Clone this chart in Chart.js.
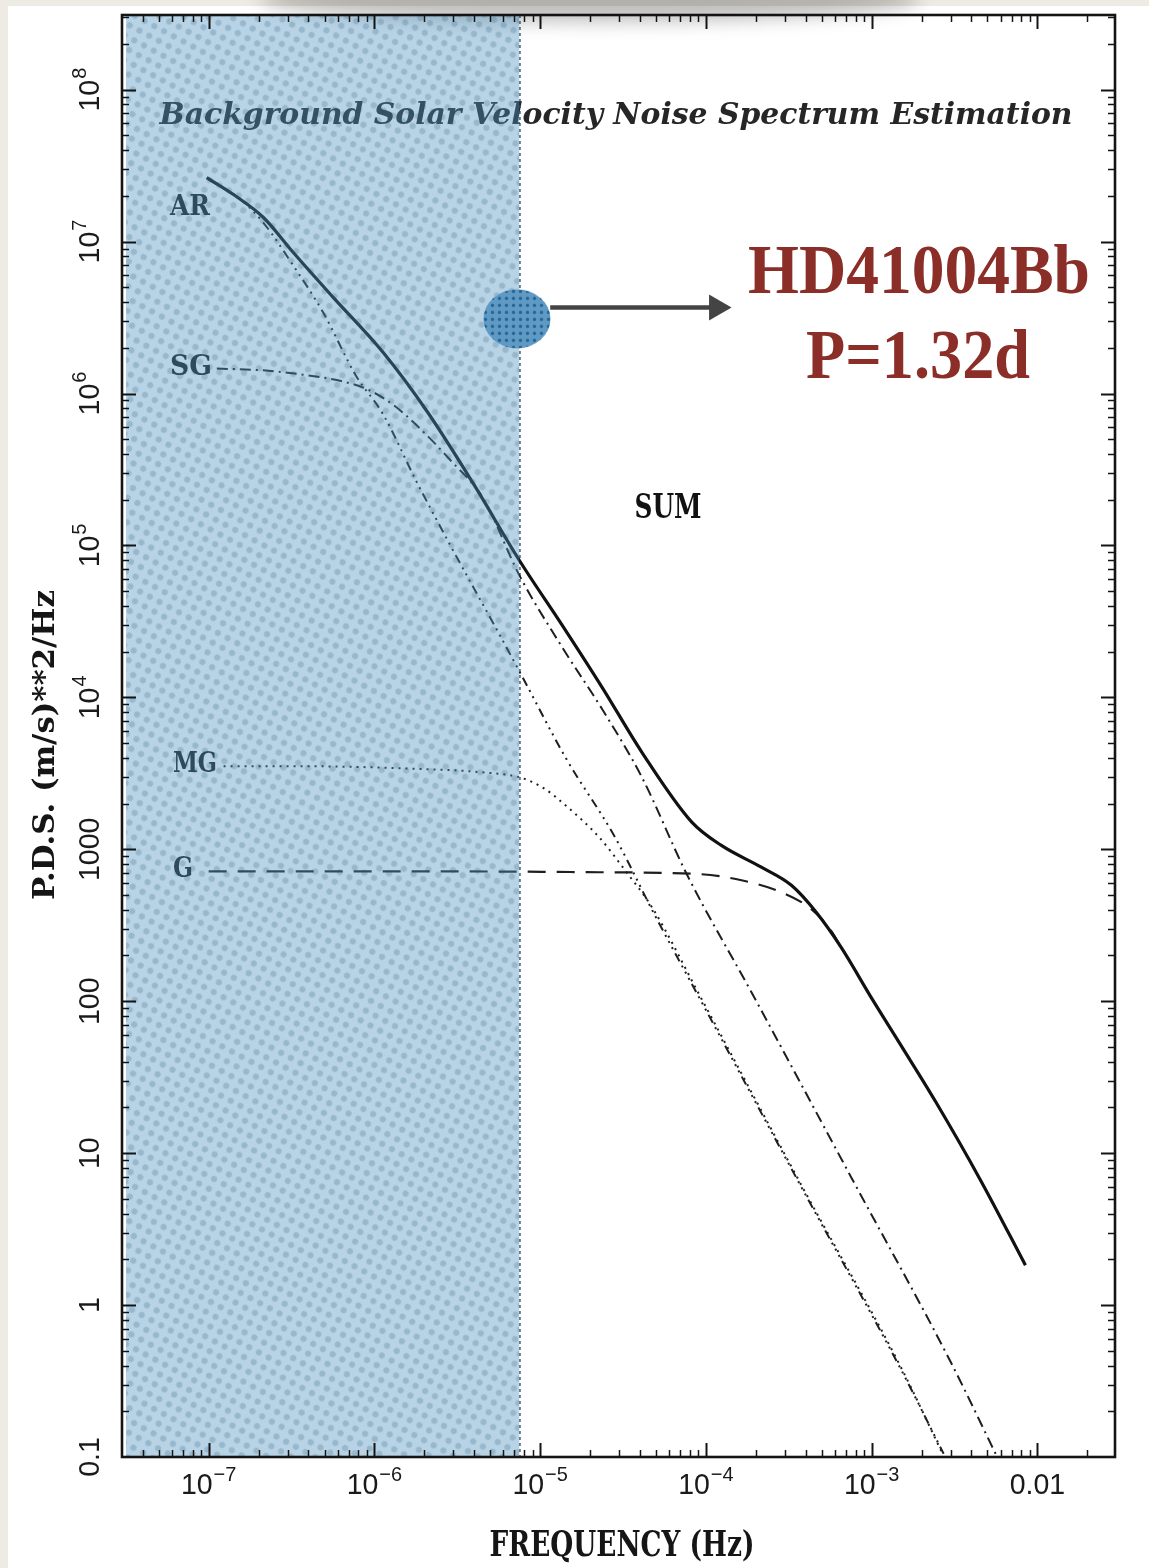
<!DOCTYPE html>
<html><head><meta charset="utf-8">
<script src="https://cdn.jsdelivr.net/npm/chart.js@4.4.1/dist/chart.umd.min.js"></script>
<style>
html,body{margin:0;padding:0;background:#eeebe4;}
#wrap{position:relative;width:1149px;height:1568px;overflow:hidden;}
#card{position:absolute;left:8px;top:6px;right:0;bottom:0;background:#fff;}
#shadow{position:absolute;left:260px;top:-24px;width:660px;height:46px;border-radius:50%;background:rgba(0,0,0,0.25);filter:blur(9px);}
canvas{position:absolute;left:0;top:0;}
</style></head><body>
<div id="wrap"><div id="card"></div><div id="shadow"></div><canvas id="c" width="1149" height="1568"></canvas></div>
<script>
// ---------------- DATA ----------------
const sumFreq = [9.73e-8,1.41e-7,2.14e-7,3.24e-7,5.64e-7,1.13e-6,2.10e-6,3.92e-6,7.50e-6,1.36e-5,2.37e-5,4.11e-5,8.22e-5,1.24e-4,2.16e-4,3.28e-4,4.63e-4,6.55e-4,9.93e-4,1.50e-3,2.44e-3,4.54e-3,8.47e-3];
const sumPds  = [2.64e7,2.04e7,1.44e7,8.47e6,4.29e6,1.86e6,7.50e5,2.59e5,7.96e4,2.98e4,1.16e4,4350,1510,1060,762,579,385,226,106,51.4,21.7,6.64,1.83];

const arFreq = [1.00e-7,1.51e-7,2.14e-7,3.24e-7,4.91e-7,7.74e-7,1.13e-6,1.78e-6,2.96e-6,5.38e-6,7.82e-6,1.42e-5,2.83e-5,4.92e-5,9.44e-5,3.77e-4,1.50e-3,2.72e-3];
const arPds  = [2.56e7,1.95e7,1.33e7,6.95e6,3.41e6,1.31e6,7.28e5,2.68e5,9.42e4,2.89e4,1.36e4,4030,1200,368,98.4,5.97,0.379,0.105];

const sgFreq = [1.12e-7,2.14e-7,3.72e-7,6.47e-7,9.16e-7,1.29e-6,1.78e-6,2.96e-6,4.50e-6,7.50e-6,1.36e-5,2.37e-5,4.11e-5,7.67e-5,1.88e-4,7.52e-4,3.00e-3,5.60e-3];
const sgPds  = [1.46e6,1.42e6,1.33e6,1.20e6,1.06e6,8.47e5,6.25e5,3.52e5,2.07e5,6.35e4,2.13e4,8340,2980,685,115,6.95,0.422,0.105];

const mgFreq = [1.23e-7,3.72e-7,1.49e-6,4.50e-6,7.50e-6,1.03e-5,1.42e-5,2.27e-5,3.25e-5,4.73e-5,9.44e-5,3.77e-4,1.50e-3,2.68e-3];
const mgPds  = [3520,3520,3410,3210,2980,2560,1950,1200,728,415,103,6.15,0.391,0.105];

const gFreq = [1.00e-7,1.49e-6,2.37e-5,9.44e-5,1.64e-4,2.86e-4,4.33e-4,5.70e-4,6.55e-4];
const gPds  = [716,716,706,685,625,521,403,290,226];

// shaded band: from the left edge to the 1.32 d frequency
const bandFreq = [3.17e-8, 7.5e-6];
const bandPds  = [3.1e8, 3.1e8];
// HD41004Bb marker and arrow
const markerFreq = [7.25e-6];
const markerPds  = [3.1e6];
const arrowFreq = [1.15e-5, 1.16e-4];
const arrowPds  = [3.68e6, 3.68e6];

const xTickValues = [1e-7,1e-6,1e-5,1e-4,1e-3,1e-2];
const xTickLabels = ['10^\u22127','10^\u22126','10^\u22125','10^\u22124','10^\u22123','0.01'];
const yTickValues = [1e8,1e7,1e6,1e5,1e4,1000,100,10,1,0.1];
const yTickLabels = ['10^8','10^7','10^6','10^5','10^4','1000','100','10','1','0.1'];
const X_MIN = 3.17e-8, X_MAX = 0.0294, Y_MIN = 0.1, Y_MAX = 3.1e8;

// ---------------- helpers ----------------
const pts = (xs, ys) => xs.map((x, i) => ({x, y: ys[i]}));

function bandPattern() {
  const t = document.createElement('canvas'); t.width = 11; t.height = 11;
  const g = t.getContext('2d');
  g.fillStyle = 'rgba(78,145,190,0.40)'; g.fillRect(0, 0, 11, 11);
  g.fillStyle = 'rgba(30,80,115,0.21)';
  g.beginPath(); g.arc(5.5, 5.5, 3.1, 0, Math.PI * 2); g.fill();
  const p = document.createElement('canvas').getContext('2d').createPattern(t, 'repeat');
  if (p.setTransform) p.setTransform(new DOMMatrix().rotateSelf(0, 0, 28));
  return p;
}
function markerCanvas() {
  const t = document.createElement('canvas'); t.width = 7; t.height = 7;
  const tg = t.getContext('2d');
  tg.fillStyle = '#5e9ac4'; tg.fillRect(0, 0, 7, 7);
  tg.fillStyle = '#2b6693'; tg.beginPath(); tg.arc(3.5, 3.5, 1.7, 0, Math.PI * 2); tg.fill();
  const c = document.createElement('canvas'); c.width = 70; c.height = 62;
  const g = c.getContext('2d');
  g.fillStyle = g.createPattern(t, 'repeat');
  g.beginPath(); g.ellipse(35, 31, 33.5, 29.5, 0, 0, Math.PI * 2); g.fill();
  return c;
}
function fitText(ctx, text, cx, by, font, width, color, rot) {
  ctx.save();
  ctx.font = font;
  const w = ctx.measureText(text).width;
  ctx.translate(cx, by);
  if (rot) ctx.rotate(rot);
  ctx.scale(width / w, 1);
  ctx.fillStyle = color; ctx.textAlign = 'center'; ctx.textBaseline = 'alphabetic';
  ctx.fillText(text, 0, 0);
  ctx.restore();
}
function powLabel(ctx, label, x, y, rot) {
  const [base, exp] = label.split('^');
  ctx.save();
  ctx.translate(x, y); if (rot) ctx.rotate(rot);
  ctx.scale(0.95, 1);
  ctx.fillStyle = '#1a1a1a'; ctx.textAlign = 'left'; ctx.textBaseline = 'alphabetic';
  const bf = '30px "Liberation Sans", Arial, sans-serif', ef = '21px "Liberation Sans", Arial, sans-serif';
  ctx.font = bf; const wb = ctx.measureText(base).width;
  let we = 0;
  if (exp) { ctx.font = ef; we = ctx.measureText(exp).width + 1; }
  const x0 = -(wb + we) / 2;
  ctx.font = bf; ctx.fillText(base, x0, 0);
  if (exp) { ctx.font = ef; ctx.fillText(exp, x0 + wb + 1, -13); }
  ctx.restore();
}

const decor = {
  id: 'decor',
  beforeDatasetsDraw(chart) {
    const ctx = chart.ctx, xs = chart.scales.x;
    const serifB = '"DejaVu Serif", serif';
    fitText(ctx, 'Background Solar Velocity Noise Spectrum Estimation', 616, 124, 'italic bold 30px ' + serifB, 913, '#262626');
    fitText(ctx, 'AR', 190, 215, 'bold 27px ' + serifB, 40, '#1a1a1a');
    fitText(ctx, 'SG', 191, 375, 'bold 27px ' + serifB, 42, '#1a1a1a');
    fitText(ctx, 'MG', 195, 772, 'bold 27px ' + serifB, 44, '#1a1a1a');
    fitText(ctx, 'G', 183, 877, 'bold 27px ' + serifB, 20, '#1a1a1a');
    fitText(ctx, 'SUM', 668, 518, 'bold 33px ' + serifB, 67, '#111');
    const ex = xs.getPixelForValue(bandFreq[1]);
    const a = chart.chartArea;
    ctx.save();
    ctx.strokeStyle = 'rgba(40,75,100,0.85)'; ctx.lineWidth = 1.6; ctx.setLineDash([3, 3]);
    ctx.beginPath(); ctx.moveTo(ex + 0.5, a.top); ctx.lineTo(ex + 0.5, a.bottom); ctx.stroke();
    ctx.restore();
  },
  afterDatasetsDraw(chart) {
    const ctx = chart.ctx, a = chart.chartArea, xs = chart.scales.x, ys = chart.scales.y;
    ctx.save();
    ctx.strokeStyle = '#141414';
    for (let d = -9; d <= 9; d++) {
      for (let m = 1; m <= 9; m++) {
        const v = m * Math.pow(10, d);
        const len = m === 1 ? 14 : 7;
        ctx.lineWidth = m === 1 ? 2 : 1.5;
        if (v > X_MIN && v < X_MAX) {
          const px = Math.round(xs.getPixelForValue(v)) + 0.5;
          ctx.beginPath();
          ctx.moveTo(px, a.bottom); ctx.lineTo(px, a.bottom - len);
          ctx.moveTo(px, a.top); ctx.lineTo(px, a.top + len);
          ctx.stroke();
        }
        if (v > Y_MIN && v < Y_MAX) {
          const py = Math.round(ys.getPixelForValue(v)) + 0.5;
          ctx.beginPath();
          ctx.moveTo(a.left, py); ctx.lineTo(a.left + len, py);
          ctx.moveTo(a.right, py); ctx.lineTo(a.right - len, py);
          ctx.stroke();
        }
      }
    }
    ctx.lineWidth = 2.6;
    ctx.strokeRect(a.left, a.top, a.right - a.left, a.bottom - a.top);
    ctx.restore();
    xTickValues.forEach((v, i) => powLabel(ctx, xTickLabels[i], xs.getPixelForValue(v), 1494, 0));
    yTickValues.forEach((v, i) => powLabel(ctx, yTickLabels[i], 99, ys.getPixelForValue(v), -Math.PI / 2));
    const serifB = '"DejaVu Serif", serif';
    fitText(ctx, 'FREQUENCY (Hz)', 622, 1556, 'bold 35px ' + serifB, 265, '#151515');
    fitText(ctx, 'P.D.S. (m/s)**2/Hz', 54, 745, 'bold 29px ' + serifB, 310, '#151515', -Math.PI / 2);
    const red = '#8b2e28', rf = 'bold 69px "Liberation Serif", "Times New Roman", serif';
    fitText(ctx, 'HD41004Bb', 919, 293, rf, 342, red);
    fitText(ctx, 'P=1.32d', 918, 378, rf, 224, red);
  }
};

const lineBase = {pointRadius: 0, fill: false, cubicInterpolationMode: 'monotone', order: 10};
new Chart(document.getElementById('c'), {
  type: 'line',
  data: {
    datasets: [
      Object.assign({label: 'SUM', data: pts(sumFreq, sumPds), borderColor: '#111', borderWidth: 3.2}, lineBase),
      Object.assign({label: 'AR', data: pts(arFreq, arPds), borderColor: '#1e1e1e', borderWidth: 2, borderDash: [9, 5, 2, 5, 2, 5, 2, 5]}, lineBase),
      Object.assign({label: 'SG', data: pts(sgFreq, sgPds), borderColor: '#1e1e1e', borderWidth: 2, borderDash: [11, 5, 2, 5]}, lineBase),
      Object.assign({label: 'MG', data: pts(mgFreq, mgPds), borderColor: '#1e1e1e', borderWidth: 2, borderDash: [2, 5]}, lineBase),
      Object.assign({label: 'G', data: pts(gFreq, gPds), borderColor: '#1e1e1e', borderWidth: 2.2, borderDash: [18, 11]}, lineBase),
      {label: 'band', data: pts(bandFreq, bandPds), borderWidth: 0, borderColor: 'rgba(0,0,0,0)', pointRadius: 0,
       fill: 'start', backgroundColor: bandPattern(), tension: 0, order: 5},
      {label: 'arrow', data: pts(arrowFreq, arrowPds), borderColor: '#444', borderWidth: 4.5, tension: 0,
       pointRadius: [0, 15], pointStyle: 'triangle', pointRotation: 90, pointBackgroundColor: '#444',
       pointBorderColor: '#444', pointBorderWidth: 0, fill: false, order: 2},
      {label: 'HD41004Bb', data: pts(markerFreq, markerPds), showLine: false, pointStyle: markerCanvas(),
       pointRadius: 31, fill: false, order: 1}
    ]
  },
  options: {
    responsive: false, animation: false, events: [],
    layout: {autoPadding: false, padding: {left: 122, top: 15, right: 34, bottom: 111}},
    plugins: {legend: {display: false}, tooltip: {enabled: false}},
    scales: {
      x: {type: 'logarithmic', min: X_MIN, max: X_MAX, display: false},
      y: {type: 'logarithmic', min: Y_MIN, max: Y_MAX, display: false}
    }
  },
  plugins: [decor]
});
</script></body></html>
